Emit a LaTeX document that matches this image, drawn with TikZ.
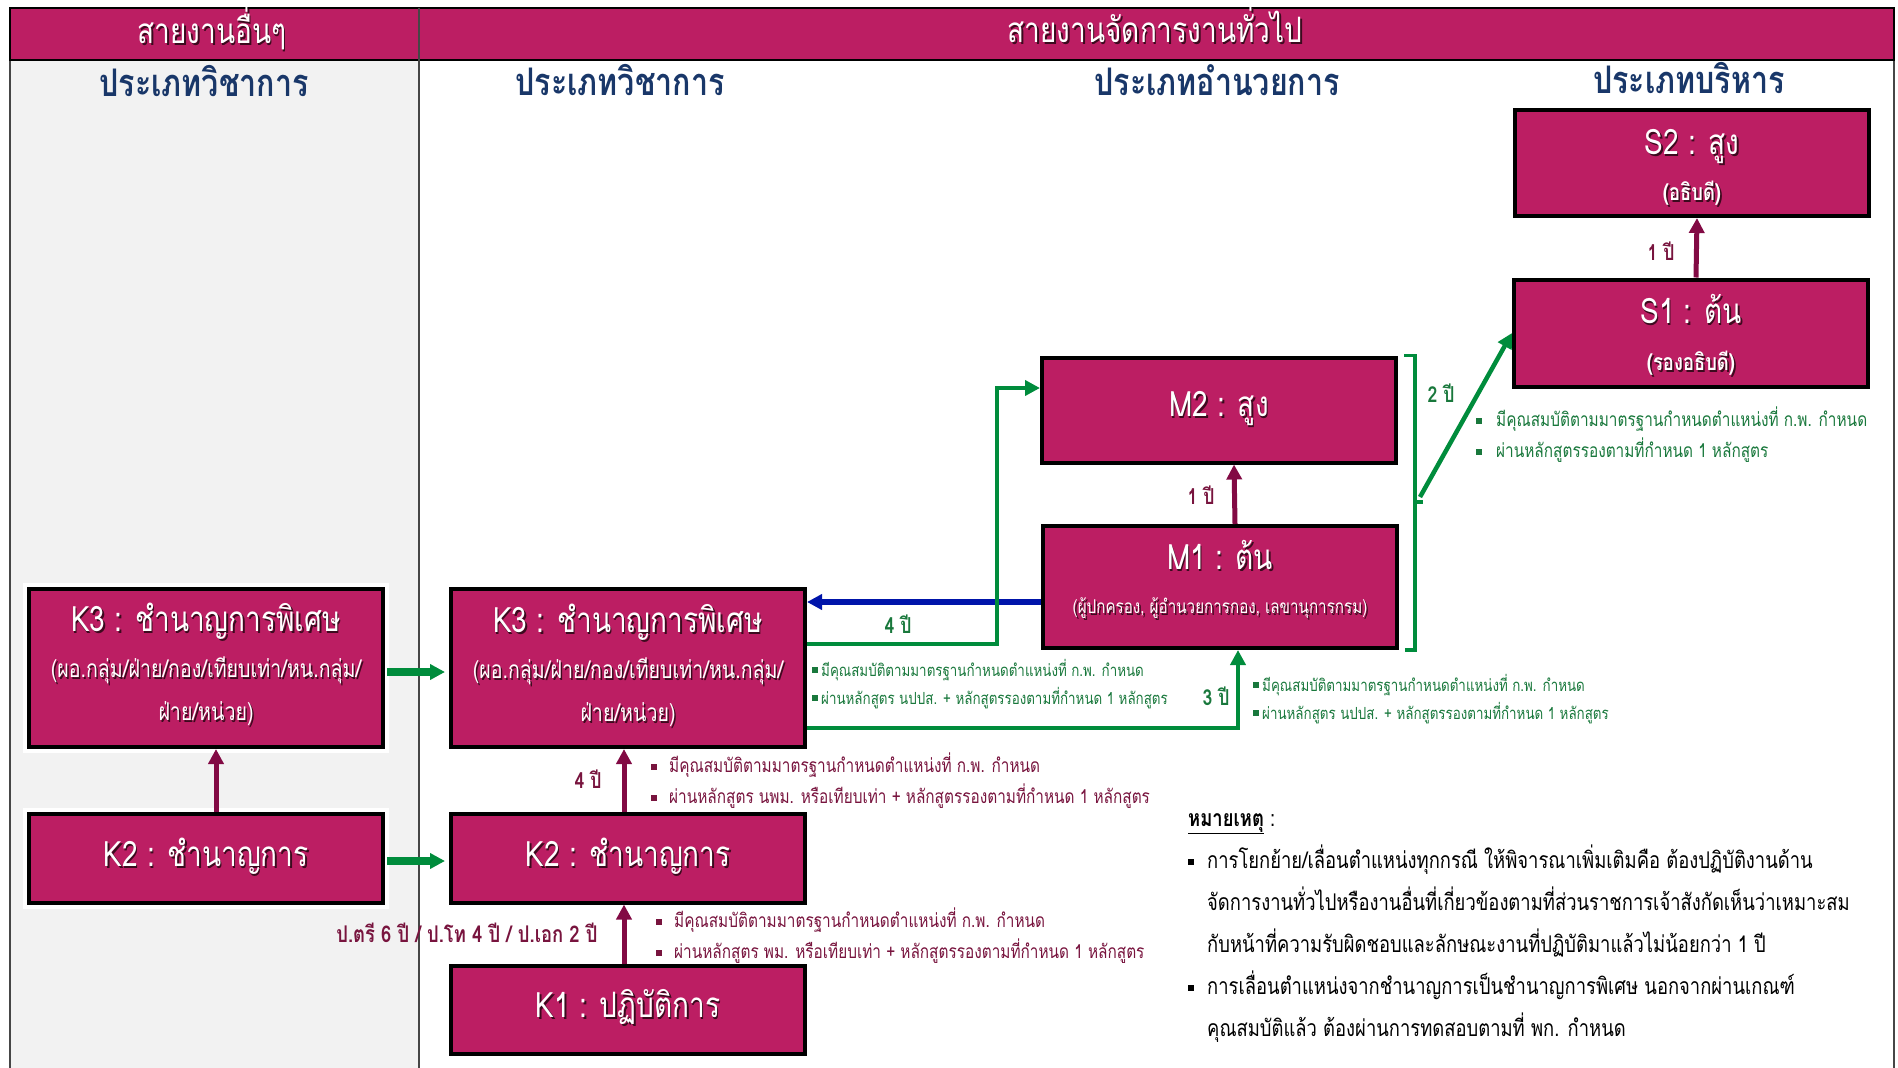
\documentclass[tikz,border=0pt]{standalone}
\usepackage{fontspec}
\setmainfont[Script=Thai,FakeStretch=0.8]{Loma}
\usetikzlibrary{arrows.meta}

\definecolor{boxpink}{RGB}{188,30,99}
\definecolor{colgray}{RGB}{242,242,242}
\definecolor{framegray}{RGB}{70,70,70}
\definecolor{arrowmaroon}{RGB}{130,10,68}
\definecolor{textmaroon}{RGB}{120,20,62}
\definecolor{arrowgreen}{RGB}{0,140,60}
\definecolor{textgreen}{RGB}{25,120,60}
\definecolor{arrowblue}{RGB}{0,20,170}
\definecolor{headnavy}{RGB}{25,55,105}
\definecolor{shadowdark}{RGB}{60,10,30}

\newcommand{\blt}[1][9pt]{\rule[3pt]{6pt}{6pt}\hspace{#1}}
\newcommand{\shd}[1]{\leavevmode\rlap{\hspace{1.6pt}\raisebox{-1.6pt}{\textcolor{shadowdark}{#1}}}#1}

\tikzset{
	box/.style={draw=black, line width=4pt, fill=boxpink, minimum width=354pt, inner sep=0pt},
	halo/.style={preaction={draw=white, line width=12pt}},
	boxtitle/.style={text=white, font=\fontsize{35}{40}\selectfont, anchor=mid},
	boxsub/.style={text=white, font=\fontsize{24.5}{28}\selectfont, anchor=mid},
	boxsubsmall/.style={text=white, font=\fontsize{19}{22}\selectfont, anchor=mid},
	boxsubbold/.style={text=white, font=\fontsize{23}{26}\selectfont\bfseries, anchor=mid},
	headtxt/.style={text=white, font=\fontsize{35}{40}\selectfont, anchor=mid},
	coltxt/.style={text=headnavy, font=\fontsize{38}{42}\selectfont\bfseries, anchor=mid},
	yrmaroon/.style={text=textmaroon, font=\fontsize{22}{26}\selectfont\bfseries, anchor=mid},
	yrgreen/.style={text=textgreen, font=\fontsize{22}{26}\selectfont\bfseries, anchor=mid},
	bltsmall/.style={font=\fontsize{16.7}{28}\selectfont, align=left, anchor=west, inner sep=0pt},
	bltbig/.style={font=\fontsize{19.2}{31}\selectfont, align=left, anchor=west, inner sep=0pt},
	marrow/.style={draw=arrowmaroon, line width=5pt},
	garrow/.style={draw=arrowgreen, line width=8pt, shorten >=4pt, shorten <=2pt},
	gline/.style={draw=arrowgreen, line width=4.5pt},
	barrow/.style={draw=arrowblue, line width=6pt}
}

\begin{document}
\begin{tikzpicture}[x=1pt,y=-1pt,>={Triangle[length=15pt,width=15pt]}]
	\useasboundingbox (0,0) rectangle (1898,1068);
	\fill[colgray] (10,60) rectangle (419,1068);
	\draw[framegray, line width=2pt] (10,1068) -- (10,8) -- (1894,8) -- (1894,1068);
	\draw[black, line width=2pt, fill=boxpink] (10,8) rectangle (1894,60);
	\draw[framegray, line width=2pt] (419,8) -- (419,1068);

	\node[headtxt] (hother) at (212,41) {\shd{สายงานอื่นๆ}};
	\node[headtxt] (hgeneral) at (1155,40) {\shd{สายงานจัดการงานทั่วไป}};
	\node[coltxt] (colacadl) at (204,94) {ประเภทวิชาการ};
	\node[coltxt] (colacadm) at (620,93) {ประเภทวิชาการ};
	\node[coltxt] (coldir) at (1217,93) {ประเภทอำนวยการ};
	\node[coltxt] (colexec) at (1689,91) {ประเภทบริหาร};

	\node[box, minimum height=106pt] (s2) at (1692,163) {};
	\node[box, minimum height=107pt] (s1) at (1691,333) {};
	\node[box, minimum height=105pt] (m2) at (1219,410) {};
	\node[box, minimum height=122pt] (m1) at (1220,587) {};
	\node[box, halo, minimum height=158pt] (k3l) at (206,668) {};
	\node[box, minimum height=158pt] (k3m) at (628,668) {};
	\node[box, halo, minimum height=89pt] (k2l) at (206,858) {};
	\node[box, minimum height=89pt] (k2m) at (628,858) {};
	\node[box, minimum height=88pt] (k1) at (628,1010) {};

	\node[boxtitle] (s2t) at (1692,152) {\shd{S2 : สูง}};
	\node[boxsubbold] (s2s) at (1692,198) {\shd{(อธิบดี)}};
	\node[boxtitle] (s1t) at (1691,321) {\shd{S1 : ต้น}};
	\node[boxsubbold] (s1s) at (1691,368) {\shd{(รองอธิบดี)}};
	\node[boxtitle] (m2t) at (1219,414) {\shd{M2 : สูง}};
	\node[boxtitle] (m1t) at (1220,567) {\shd{M1 : ต้น}};
	\node[boxsubsmall] (m1s) at (1220,611) {\shd{(ผู้ปกครอง, ผู้อำนวยการกอง, เลขานุการกรม)}};
	\node[boxtitle] (k3lt) at (206,629) {\shd{K3 : ชำนาญการพิเศษ}};
	\node[boxsub] (k3ls) at (206,675) {\shd{(ผอ.กลุ่ม/ฝ่าย/กอง/เทียบเท่า/หน.กลุ่ม/}};
	\node[boxsub] (k3ls2) at (206,718) {\shd{ฝ่าย/หน่วย)}};
	\node[boxtitle] (k3mt) at (628,630) {\shd{K3 : ชำนาญการพิเศษ}};
	\node[boxsub] (k3ms) at (628,676) {\shd{(ผอ.กลุ่ม/ฝ่าย/กอง/เทียบเท่า/หน.กลุ่ม/}};
	\node[boxsub] (k3ms2) at (628,719) {\shd{ฝ่าย/หน่วย)}};
	\node[boxtitle] (k2lt) at (206,864) {\shd{K2 : ชำนาญการ}};
	\node[boxtitle] (k2mt) at (628,864) {\shd{K2 : ชำนาญการ}};
	\node[boxtitle] (k1t) at (628,1015) {\shd{K1 : ปฏิบัติการ}};

	\draw[marrow,->] ([xshift=5pt]s1.north) -- ([xshift=5pt]s2.south);
	\draw[marrow,->] ([xshift=15pt]m1.north) -- ([xshift=15pt]m2.south);
	\draw[marrow,->] ([xshift=10pt]k2l.north) -- ([xshift=10pt]k3l.south);
	\draw[marrow,->] ([xshift=-4pt]k2m.north) -- ([xshift=-4pt]k3m.south);
	\draw[marrow,->] ([xshift=-4pt]k1.north) -- ([xshift=-4pt]k2m.south);

	\draw[garrow,->] ([yshift=-4pt]k3l.east) -- ([yshift=-4pt]k3m.west);
	\draw[garrow,->] ([yshift=-3pt]k2l.east) -- ([yshift=-3pt]k2m.west);

	\draw[barrow,->] ([yshift=-15pt]m1.west) -- ([yshift=-15pt]m1.west -| k3m.east);
	\coordinate (bend) at (997,388);
	\draw[gline,->] ([yshift=24pt]k3m.east) -| (bend) -- ([yshift=22pt]m2.west);
	\draw[gline,->] ([yshift=-60pt]k3m.east) -| ([xshift=18pt]m1.south);

	\draw[gline, line width=3.5pt] ([xshift=6pt]m2.north east) -- ++(11,0) |- ([xshift=6pt]m1.south east);
	\coordinate (brk) at (1415,502);
	\draw[gline, line width=3.5pt] (brk) -- ++(8,0);
	\coordinate (brkend) at (1420,497);
	\draw[gline,->] (brkend) -- (s1.west);

	\node[yrmaroon] (y1s) at (1661,258) {1 ปี};
	\node[yrgreen] (y2s) at (1441,400) {2 ปี};
	\node[yrmaroon] (y1m) at (1201,502) {1 ปี};
	\node[yrgreen] (y4m) at (898,631) {4 ปี};
	\node[yrgreen] (y3m) at (1216,703) {3 ปี};
	\node[yrmaroon] (y4k) at (588,786) {4 ปี};
	\node[yrmaroon, font=\fontsize{23}{26}\selectfont\bfseries] (ydeg) at (467,940) {ป.ตรี 6 ปี / ป.โท 4 ปี / ป.เอก 2 ปี};

	\node[bltbig, text=textgreen] (qs1) at (1476,435) {\blt[14pt]มีคุณสมบัติตามมาตรฐานกำหนดตำแหน่งที่ ก.พ. กำหนด\\ \blt[14pt]ผ่านหลักสูตรรองตามที่กำหนด 1 หลักสูตร};
	\node[bltsmall, text=textgreen] (qk3) at (812,684) {\blt[3pt]มีคุณสมบัติตามมาตรฐานกำหนดตำแหน่งที่ ก.พ. กำหนด\\ \blt[3pt]ผ่านหลักสูตร นปปส. + หลักสูตรรองตามที่กำหนด 1 หลักสูตร};
	\node[bltsmall, text=textgreen] (qm1) at (1253,699) {\blt[3pt]มีคุณสมบัติตามมาตรฐานกำหนดตำแหน่งที่ ก.พ. กำหนด\\ \blt[3pt]ผ่านหลักสูตร นปปส. + หลักสูตรรองตามที่กำหนด 1 หลักสูตร};
	\node[bltbig, text=textmaroon] (qk2) at (651,781) {\blt[12pt]มีคุณสมบัติตามมาตรฐานกำหนดตำแหน่งที่ ก.พ. กำหนด\\ \blt[12pt]ผ่านหลักสูตร นพม. หรือเทียบเท่า + หลักสูตรรองตามที่กำหนด 1 หลักสูตร};
	\node[bltbig, text=textmaroon] (qk1) at (656,936) {\blt[12pt]มีคุณสมบัติตามมาตรฐานกำหนดตำแหน่งที่ ก.พ. กำหนด\\ \blt[12pt]ผ่านหลักสูตร พม. หรือเทียบเท่า + หลักสูตรรองตามที่กำหนด 1 หลักสูตร};

	\node[font=\fontsize{23}{42}\selectfont, align=left, anchor=north west, inner sep=0pt] (note) at (1188,813) {\textbf{\underline{หมายเหตุ}} :\\ \blt[13pt]การโยกย้าย/เลื่อนตำแหน่งทุกกรณี ให้พิจารณาเพิ่มเติมคือ ต้องปฏิบัติงานด้าน\\ \hspace{19pt}จัดการงานทั่วไปหรืองานอื่นที่เกี่ยวข้องตามที่ส่วนราชการเจ้าสังกัดเห็นว่าเหมาะสม\\ \hspace{19pt}กับหน้าที่ความรับผิดชอบและลักษณะงานที่ปฏิบัติมาแล้วไม่น้อยกว่า 1 ปี\\ \blt[13pt]การเลื่อนตำแหน่งจากชำนาญการเป็นชำนาญการพิเศษ นอกจากผ่านเกณฑ์\\ \hspace{19pt}คุณสมบัติแล้ว ต้องผ่านการทดสอบตามที่ พก. กำหนด};
\end{tikzpicture}
\end{document}
